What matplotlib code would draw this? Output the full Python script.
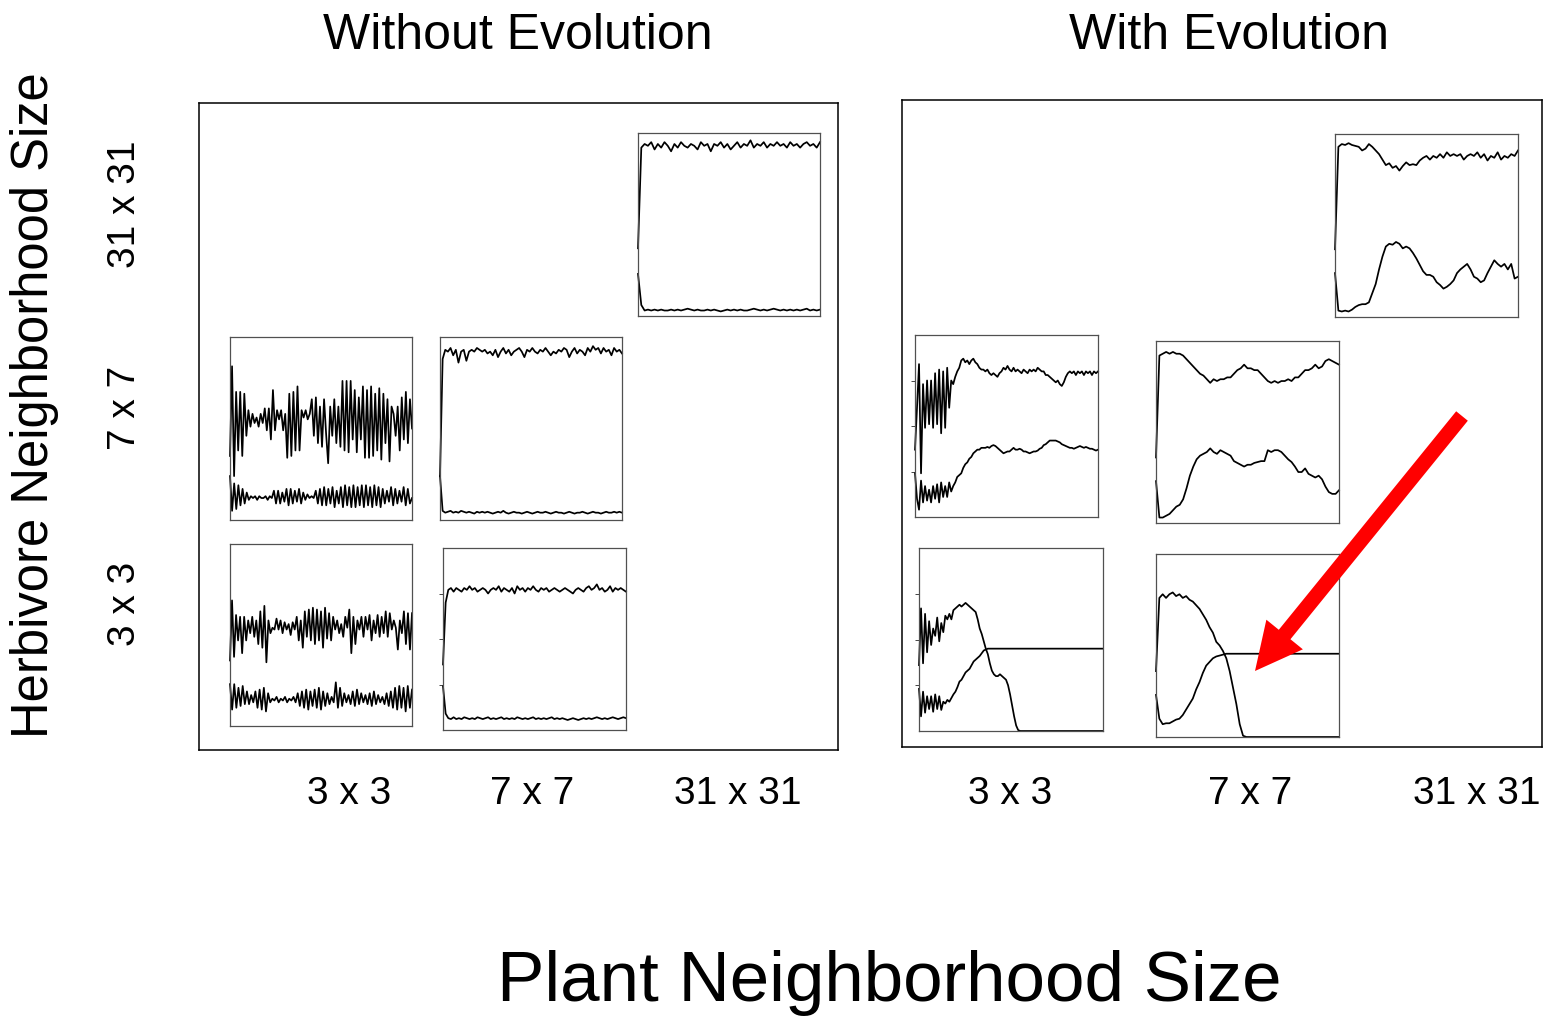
import numpy as np
import matplotlib
matplotlib.use("Agg")
from matplotlib import pyplot as plt
from matplotlib.patches import FancyArrow

plt.rcParams['font.family'] = ['Liberation Sans', 'DejaVu Sans']

# ---- population trajectories (fraction of the grid occupied) ----
# without evolution
no_evo_h7_p3_upper = [0.35, 0.84, 0.24, 0.70, 0.38, 0.70, 0.35, 0.69, 0.46, 0.60, 0.51, 0.58, 0.53, 0.56,
                      0.51, 0.58, 0.53, 0.61, 0.49, 0.61, 0.44, 0.71, 0.49, 0.60, 0.55, 0.60, 0.49, 0.58,
                      0.34, 0.69, 0.35, 0.70, 0.38, 0.73, 0.38, 0.60, 0.56, 0.60, 0.55, 0.58, 0.66, 0.46,
                      0.67, 0.42, 0.62, 0.40, 0.66, 0.47, 0.31, 0.62, 0.46, 0.66, 0.42, 0.62, 0.40, 0.76,
                      0.38, 0.76, 0.37, 0.76, 0.44, 0.71, 0.37, 0.67, 0.44, 0.73, 0.34, 0.71, 0.34, 0.73,
                      0.35, 0.69, 0.38, 0.72, 0.33, 0.69, 0.42, 0.66, 0.32, 0.62, 0.58, 0.46, 0.62, 0.38,
                      0.67, 0.44, 0.70, 0.42, 0.66, 0.50]
no_evo_h7_p3_lower = [0.24, 0.05, 0.20, 0.06, 0.19, 0.08, 0.17, 0.09, 0.15, 0.11, 0.13, 0.12, 0.13, 0.11,
                      0.13, 0.12, 0.12, 0.13, 0.11, 0.13, 0.12, 0.16, 0.09, 0.16, 0.09, 0.15, 0.10, 0.17,
                      0.08, 0.17, 0.09, 0.16, 0.10, 0.17, 0.09, 0.15, 0.11, 0.14, 0.12, 0.13, 0.12, 0.16,
                      0.09, 0.17, 0.08, 0.18, 0.08, 0.17, 0.09, 0.18, 0.07, 0.16, 0.09, 0.18, 0.07, 0.19,
                      0.08, 0.18, 0.07, 0.19, 0.07, 0.18, 0.08, 0.19, 0.07, 0.19, 0.08, 0.18, 0.07, 0.19,
                      0.08, 0.18, 0.07, 0.17, 0.09, 0.16, 0.10, 0.18, 0.08, 0.17, 0.09, 0.16, 0.10, 0.18,
                      0.08, 0.17, 0.09, 0.12]

no_evo_h7_p7_upper = [0.24, 0.88, 0.93, 0.92, 0.94, 0.90, 0.93, 0.86, 0.92, 0.93, 0.87, 0.92, 0.93, 0.92,
                      0.94, 0.93, 0.92, 0.93, 0.91, 0.92, 0.90, 0.93, 0.89, 0.92, 0.94, 0.91, 0.93, 0.90,
                      0.92, 0.93, 0.94, 0.92, 0.89, 0.93, 0.92, 0.94, 0.92, 0.91, 0.93, 0.92, 0.94, 0.92,
                      0.90, 0.92, 0.91, 0.93, 0.92, 0.94, 0.93, 0.89, 0.92, 0.94, 0.91, 0.93, 0.92, 0.90,
                      0.94, 0.92, 0.95, 0.93, 0.94, 0.91, 0.94, 0.92, 0.93, 0.90, 0.94, 0.92, 0.93, 0.91]
no_evo_h7_p7_lower = [0.24, 0.05, 0.04, 0.045, 0.05, 0.04, 0.045, 0.04, 0.05, 0.045, 0.04, 0.045, 0.04,
                      0.035, 0.045, 0.04, 0.045, 0.04, 0.045, 0.04, 0.035, 0.04, 0.045, 0.04, 0.05, 0.04,
                      0.035, 0.04, 0.045, 0.04, 0.04, 0.035, 0.04, 0.045, 0.04, 0.035, 0.04, 0.045, 0.04,
                      0.04, 0.045, 0.04, 0.035, 0.04, 0.045, 0.04, 0.04, 0.035, 0.04, 0.045, 0.04, 0.035,
                      0.04, 0.04, 0.045, 0.04, 0.035, 0.04, 0.045, 0.04, 0.04, 0.035, 0.04, 0.045, 0.04,
                      0.04, 0.045, 0.04, 0.045, 0.04]

no_evo_h3_p3_upper = [0.36, 0.69, 0.38, 0.61, 0.47, 0.60, 0.40, 0.60, 0.47, 0.58, 0.51, 0.60, 0.49, 0.58,
                      0.45, 0.63, 0.43, 0.66, 0.35, 0.58, 0.51, 0.54, 0.53, 0.59, 0.53, 0.58, 0.51, 0.57,
                      0.53, 0.56, 0.50, 0.57, 0.53, 0.60, 0.47, 0.58, 0.43, 0.63, 0.49, 0.64, 0.47, 0.65,
                      0.45, 0.64, 0.47, 0.63, 0.43, 0.65, 0.48, 0.62, 0.47, 0.60, 0.53, 0.58, 0.51, 0.56,
                      0.49, 0.60, 0.54, 0.64, 0.40, 0.60, 0.45, 0.58, 0.53, 0.60, 0.49, 0.60, 0.53, 0.61,
                      0.47, 0.58, 0.51, 0.61, 0.49, 0.60, 0.51, 0.63, 0.49, 0.62, 0.53, 0.58, 0.54, 0.42,
                      0.58, 0.51, 0.63, 0.45, 0.62, 0.42, 0.62]
no_evo_h3_p3_lower = [0.23, 0.09, 0.23, 0.10, 0.21, 0.11, 0.22, 0.12, 0.19, 0.12, 0.17, 0.13, 0.19, 0.10,
                      0.20, 0.09, 0.21, 0.08, 0.18, 0.13, 0.15, 0.14, 0.16, 0.13, 0.15, 0.14, 0.16, 0.13,
                      0.15, 0.14, 0.16, 0.13, 0.18, 0.11, 0.19, 0.10, 0.20, 0.09, 0.19, 0.11, 0.20, 0.10,
                      0.21, 0.09, 0.19, 0.11, 0.18, 0.12, 0.16, 0.13, 0.24, 0.10, 0.21, 0.11, 0.18, 0.13,
                      0.17, 0.12, 0.19, 0.11, 0.20, 0.12, 0.18, 0.13, 0.17, 0.12, 0.18, 0.11, 0.19, 0.12,
                      0.17, 0.13, 0.16, 0.12, 0.18, 0.11, 0.19, 0.10, 0.21, 0.09, 0.22, 0.10, 0.21, 0.08,
                      0.22, 0.10, 0.20]

no_evo_h3_p7_upper = [0.36, 0.70, 0.77, 0.78, 0.76, 0.78, 0.77, 0.76, 0.78, 0.77, 0.79, 0.77, 0.78, 0.76,
                      0.77, 0.78, 0.77, 0.75, 0.77, 0.78, 0.77, 0.79, 0.76, 0.78, 0.77, 0.76, 0.78, 0.75,
                      0.79, 0.77, 0.78, 0.76, 0.78, 0.77, 0.79, 0.77, 0.76, 0.78, 0.77, 0.78, 0.76, 0.77,
                      0.78, 0.77, 0.76, 0.77, 0.78, 0.77, 0.76, 0.75, 0.77, 0.78, 0.77, 0.76, 0.78, 0.79,
                      0.77, 0.78, 0.80, 0.77, 0.78, 0.76, 0.77, 0.79, 0.76, 0.78, 0.77, 0.78, 0.77, 0.76]
no_evo_h3_p7_lower = [0.24, 0.09, 0.065, 0.06, 0.07, 0.06, 0.065, 0.06, 0.07, 0.065, 0.06, 0.065, 0.06,
                      0.07, 0.065, 0.06, 0.065, 0.07, 0.06, 0.065, 0.06, 0.065, 0.07, 0.06, 0.065, 0.06,
                      0.065, 0.06, 0.07, 0.065, 0.06, 0.065, 0.06, 0.065, 0.07, 0.06, 0.065, 0.06, 0.065,
                      0.06, 0.065, 0.07, 0.06, 0.065, 0.06, 0.065, 0.06, 0.055, 0.06, 0.065, 0.06, 0.055,
                      0.06, 0.065, 0.06, 0.065, 0.06, 0.065, 0.07, 0.065, 0.06, 0.065, 0.06, 0.065, 0.07,
                      0.065, 0.06, 0.065, 0.07, 0.065]

no_evo_h31_p31_upper = [0.37, 0.92, 0.94, 0.93, 0.95, 0.91, 0.94, 0.92, 0.95, 0.93, 0.90, 0.94, 0.92,
                        0.95, 0.93, 0.92, 0.94, 0.93, 0.91, 0.95, 0.93, 0.94, 0.90, 0.94, 0.93, 0.95,
                        0.92, 0.94, 0.91, 0.93, 0.95, 0.92, 0.94, 0.93, 0.96, 0.92, 0.94, 0.93, 0.95,
                        0.92, 0.94, 0.93, 0.95, 0.93, 0.94, 0.92, 0.95, 0.93, 0.94, 0.92, 0.94, 0.95,
                        0.93, 0.94, 0.92, 0.95]
no_evo_h31_p31_lower = [0.23, 0.06, 0.03, 0.035, 0.03, 0.035, 0.03, 0.035, 0.03, 0.03, 0.035, 0.03,
                        0.035, 0.03, 0.035, 0.04, 0.035, 0.03, 0.035, 0.03, 0.03, 0.035, 0.03, 0.035,
                        0.03, 0.025, 0.03, 0.035, 0.03, 0.035, 0.03, 0.035, 0.03, 0.03, 0.035, 0.04,
                        0.035, 0.03, 0.035, 0.03, 0.035, 0.04, 0.035, 0.03, 0.035, 0.03, 0.035, 0.03,
                        0.035, 0.03, 0.035, 0.04, 0.03, 0.035, 0.03, 0.035]

# with evolution
evo_h7_p3_upper = [0.37, 0.60, 0.84, 0.24, 0.73, 0.49, 0.75, 0.51, 0.75, 0.49, 0.79, 0.51, 0.81, 0.46,
                   0.80, 0.49, 0.82, 0.60, 0.75, 0.73, 0.77, 0.80, 0.82, 0.86, 0.87, 0.85, 0.86, 0.84,
                   0.86, 0.87, 0.85, 0.84, 0.82, 0.81, 0.81, 0.80, 0.81, 0.79, 0.78, 0.79, 0.78, 0.77,
                   0.79, 0.80, 0.82, 0.81, 0.83, 0.81, 0.80, 0.82, 0.80, 0.81, 0.80, 0.79, 0.81, 0.80,
                   0.79, 0.81, 0.80, 0.81, 0.80, 0.82, 0.81, 0.80, 0.80, 0.78, 0.78, 0.77, 0.76, 0.75,
                   0.74, 0.75, 0.73, 0.72, 0.74, 0.77, 0.79, 0.80, 0.79, 0.80, 0.78, 0.80, 0.79, 0.80,
                   0.78, 0.80, 0.79, 0.80, 0.78, 0.80, 0.79, 0.80]
evo_h7_p3_lower = [0.24, 0.10, 0.04, 0.20, 0.08, 0.17, 0.09, 0.15, 0.08, 0.17, 0.10, 0.18, 0.08, 0.19,
                   0.11, 0.17, 0.11, 0.19, 0.14, 0.17, 0.19, 0.22, 0.23, 0.24, 0.27, 0.29, 0.30, 0.32,
                   0.33, 0.35, 0.36, 0.37, 0.37, 0.38, 0.38, 0.38, 0.385, 0.38, 0.39, 0.395, 0.39, 0.38,
                   0.37, 0.36, 0.35, 0.355, 0.36, 0.36, 0.37, 0.38, 0.37, 0.37, 0.375, 0.37, 0.36, 0.36,
                   0.355, 0.35, 0.355, 0.36, 0.36, 0.365, 0.375, 0.38, 0.395, 0.40, 0.41, 0.42, 0.42,
                   0.42, 0.42, 0.415, 0.41, 0.40, 0.395, 0.39, 0.385, 0.38, 0.38, 0.375, 0.38, 0.385,
                   0.39, 0.385, 0.38, 0.385, 0.38, 0.375, 0.375, 0.37, 0.365, 0.37]

evo_h7_p7_upper = [0.36, 0.92, 0.93, 0.94, 0.93, 0.94, 0.93, 0.93, 0.92, 0.90, 0.88, 0.86, 0.84, 0.82,
                   0.81, 0.79, 0.77, 0.79, 0.78, 0.79, 0.79, 0.80, 0.80, 0.82, 0.84, 0.85, 0.87, 0.85,
                   0.85, 0.84, 0.84, 0.82, 0.80, 0.78, 0.77, 0.78, 0.77, 0.78, 0.78, 0.79, 0.78, 0.80,
                   0.80, 0.82, 0.84, 0.84, 0.85, 0.87, 0.85, 0.86, 0.89, 0.90, 0.89, 0.88, 0.87]
evo_h7_p7_lower = [0.23, 0.03, 0.03, 0.04, 0.05, 0.07, 0.09, 0.10, 0.13, 0.19, 0.26, 0.31, 0.35, 0.37,
                   0.38, 0.39, 0.41, 0.39, 0.38, 0.40, 0.39, 0.38, 0.37, 0.34, 0.33, 0.32, 0.31, 0.32,
                   0.32, 0.33, 0.335, 0.34, 0.34, 0.40, 0.39, 0.40, 0.40, 0.39, 0.37, 0.35, 0.335, 0.31,
                   0.28, 0.28, 0.30, 0.27, 0.26, 0.25, 0.26, 0.24, 0.20, 0.17, 0.16, 0.16, 0.18]

# the 3 x 3 herbivore runs settle onto flat lines, so only the transient is listed
evo_h3_p3_upper = [0.36, 0.67, 0.37, 0.64, 0.43, 0.60, 0.47, 0.56, 0.52, 0.62, 0.49, 0.59, 0.54, 0.63,
                   0.61, 0.64, 0.61, 0.66, 0.67, 0.68, 0.69, 0.68, 0.69, 0.70, 0.69, 0.68, 0.67, 0.66,
                   0.65, 0.61, 0.56, 0.53, 0.49, 0.45, 0.42, 0.37, 0.33, 0.31, 0.30, 0.30, 0.31, 0.30,
                   0.29, 0.28, 0.25, 0.20, 0.14, 0.08, 0.03, 0.005, 0.0]
evo_h3_p3_upper_settle = 0.55      # share of the run before the plateau
evo_h3_p3_lower = [0.23, 0.08, 0.215, 0.10, 0.19, 0.12, 0.19, 0.105, 0.20, 0.12, 0.19, 0.115, 0.16, 0.15,
                   0.17, 0.16, 0.18, 0.20, 0.215, 0.24, 0.27, 0.28, 0.30, 0.32, 0.33, 0.34, 0.36, 0.38,
                   0.39, 0.40, 0.41, 0.425, 0.44, 0.445, 0.45, 0.45]
evo_h3_p3_lower_settle = 0.385

evo_h3_p7_upper = [0.36, 0.76, 0.78, 0.76, 0.78, 0.79, 0.77, 0.78, 0.76, 0.77, 0.75, 0.74, 0.72, 0.70,
                   0.67, 0.64, 0.60, 0.57, 0.52, 0.50, 0.47, 0.43, 0.36, 0.27, 0.18, 0.07, 0.007, 0.0]
evo_h3_p7_upper_settle = 0.494
evo_h3_p7_lower = [0.23, 0.10, 0.07, 0.075, 0.075, 0.085, 0.095, 0.10, 0.12, 0.15, 0.18, 0.21, 0.26,
                   0.30, 0.35, 0.39, 0.41, 0.43, 0.44, 0.445, 0.45, 0.455]
evo_h3_p7_lower_settle = 0.384

evo_h31_p31_upper = [0.37, 0.93, 0.945, 0.94, 0.95, 0.94, 0.935, 0.93, 0.91, 0.92, 0.945, 0.93, 0.91,
                     0.89, 0.86, 0.83, 0.84, 0.815, 0.825, 0.80, 0.825, 0.845, 0.83, 0.835, 0.83, 0.855,
                     0.87, 0.88, 0.86, 0.88, 0.87, 0.89, 0.87, 0.90, 0.88, 0.89, 0.88, 0.89, 0.86, 0.88,
                     0.89, 0.88, 0.90, 0.87, 0.89, 0.855, 0.88, 0.87, 0.90, 0.86, 0.88, 0.87, 0.89,
                     0.88, 0.91]
evo_h31_p31_lower = [0.24, 0.035, 0.03, 0.035, 0.03, 0.04, 0.055, 0.065, 0.07, 0.07, 0.08, 0.13, 0.18,
                     0.26, 0.33, 0.385, 0.40, 0.395, 0.41, 0.40, 0.375, 0.385, 0.375, 0.35, 0.32, 0.285,
                     0.25, 0.23, 0.23, 0.22, 0.19, 0.175, 0.155, 0.165, 0.18, 0.20, 0.24, 0.26, 0.275,
                     0.29, 0.26, 0.22, 0.21, 0.19, 0.20, 0.24, 0.275, 0.31, 0.29, 0.275, 0.29, 0.26,
                     0.29, 0.21, 0.22]

row_labels = ['31 x 31', '7 x 7', '3 x 3']
col_labels = ['3 x 3', '7 x 7', '31 x 31']


W, H = 1557, 1016
fig = plt.figure(figsize=(W / 100, H / 100), dpi=100)


def px_axes(l, t, r, b):
    return fig.add_axes([l / W, 1 - b / H, (r - l) / W, (b - t) / H])


def uniform(vals):
    return np.linspace(0, 1, len(vals)), np.asarray(vals)


def settled(vals, settle):
    # transient on an even grid, then the flat tail out to the end of the run
    t = np.append(np.linspace(0, settle, len(vals)), 1.0)
    return t, np.append(vals, vals[-1])


def inset(l, t, r, b, series, ticks=False):
    ax = px_axes(l, t, r, b)
    for x, y in series:
        ax.plot(x, y, color='black', lw=1.25, clip_on=False)
    ax.set_xlim(0, 1)
    ax.set_ylim(0, 1)
    ax.set_xticks([])
    if ticks:
        ax.set_yticks([0.25, 0.5, 0.75])
        ax.tick_params(axis='y', length=3, width=0.7, color='#444444', labelleft=False)
    else:
        ax.set_yticks([])
    for s in ax.spines.values():
        s.set_color('#505050')
        s.set_linewidth(0.9)
    return ax


# outer frames
for box in [(199, 103, 838, 750), (902, 100, 1542, 747)]:
    ax = px_axes(*box)
    ax.set_xticks([])
    ax.set_yticks([])
    for s in ax.spines.values():
        s.set_linewidth(1.1)

# without evolution
inset(638, 133, 820, 316, [uniform(no_evo_h31_p31_upper), uniform(no_evo_h31_p31_lower)])
inset(230, 337, 412, 520, [uniform(no_evo_h7_p3_upper), uniform(no_evo_h7_p3_lower)])
inset(440, 337, 622, 520, [uniform(no_evo_h7_p7_upper), uniform(no_evo_h7_p7_lower)])
inset(230, 544, 412, 726, [uniform(no_evo_h3_p3_upper), uniform(no_evo_h3_p3_lower)])
inset(443, 548, 626, 730, [uniform(no_evo_h3_p7_upper), uniform(no_evo_h3_p7_lower)], ticks=True)

# with evolution
inset(1335, 134, 1518, 317, [uniform(evo_h31_p31_upper), uniform(evo_h31_p31_lower)])
inset(915, 335, 1098, 517, [uniform(evo_h7_p3_upper), uniform(evo_h7_p3_lower)], ticks=True)
inset(1156, 341, 1339, 523, [uniform(evo_h7_p7_upper), uniform(evo_h7_p7_lower)])
inset(919, 548, 1103, 731, [settled(evo_h3_p3_upper, evo_h3_p3_upper_settle),
                            settled(evo_h3_p3_lower, evo_h3_p3_lower_settle)], ticks=True)
inset(1156, 554, 1339, 737, [settled(evo_h3_p7_upper, evo_h3_p7_upper_settle),
                             settled(evo_h3_p7_lower, evo_h3_p7_lower_settle)])

# overlay in pixel units for the labels and the arrow
top = fig.add_axes([0, 0, 1, 1], facecolor='none')
top.set_xlim(0, W)
top.set_ylim(H, 0)
top.axis('off')

top.text(518, 36, 'Without Evolution', fontsize=36, ha='center', va='center')
top.text(1229, 36, 'With Evolution', fontsize=36, ha='center', va='center')
top.text(889, 983, 'Plant Neighborhood Size', fontsize=51, ha='center', va='center')
top.text(35, 405, 'Herbivore Neighborhood Size', fontsize=36.5, ha='center', va='center',
         rotation=90)

for lab, y in zip(row_labels, [204, 408, 604]):
    top.text(125, y, lab, fontsize=28, ha='center', va='center', rotation=90)
for lab, x in zip(col_labels, [349, 532, 738]):
    top.text(x, 794, lab, fontsize=28, ha='center', va='center')
for lab, x in zip(col_labels, [1010, 1250, 1477]):
    top.text(x, 794, lab, fontsize=28, ha='center', va='center')

top.add_patch(FancyArrow(1462, 416, -207, 255, width=15, head_width=47, head_length=47,
                         length_includes_head=True, color='red', lw=0))

fig.savefig('out.png', dpi=100)
